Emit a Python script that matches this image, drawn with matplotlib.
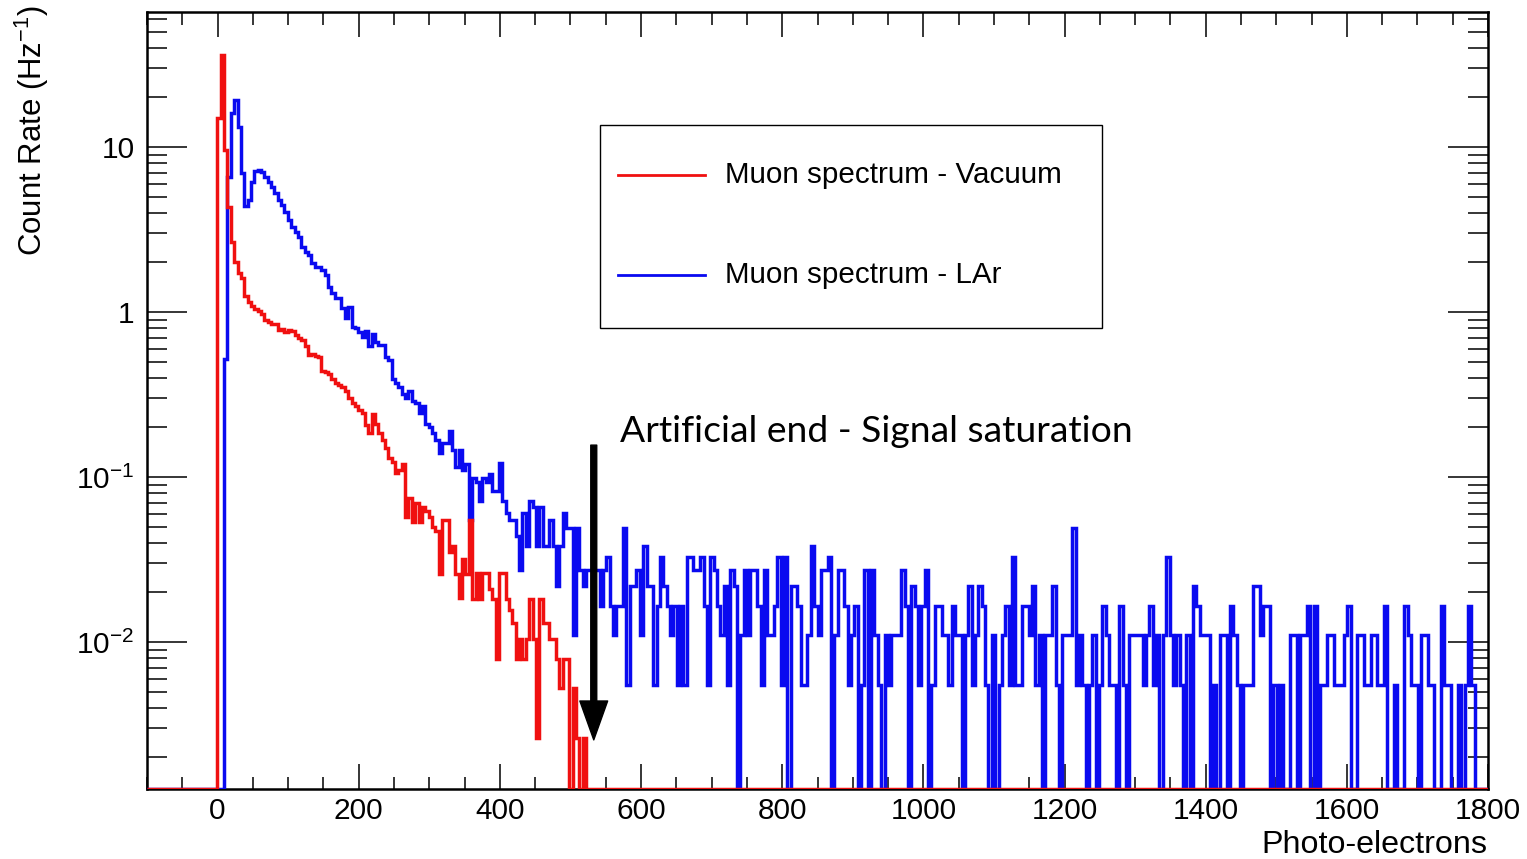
import numpy as np
import matplotlib
matplotlib.use('Agg')
import matplotlib.pyplot as plt
from matplotlib.patches import Rectangle
from matplotlib.ticker import FixedLocator, LogLocator, MultipleLocator, NullFormatter

# histogram binning (photo-electrons)
pe_min, pe_max, n_bins = -100, 1800, 400

# Muon spectrum - Vacuum (red): rate in Hz for the dense part, then raw counts
vac_first_bin = 21
vac_rate_head = [15, 36, 9.6, 4.35, 2.67, 2.0, 1.72, 1.6, 1.25, 1.15, 1.08, 1.04, 1.02,
                 0.97, 0.90, 0.87, 0.85, 0.84, 0.78, 0.79, 0.76, 0.78, 0.77, 0.73, 0.70,
                 0.68, 0.62, 0.55, 0.56, 0.54, 0.53, 0.44, 0.43, 0.42, 0.39, 0.37, 0.36,
                 0.35, 0.33, 0.30, 0.28, 0.27, 0.255, 0.245, 0.206, 0.185, 0.24, 0.21,
                 0.185, 0.168, 0.15, 0.13, 0.123, 0.105, 0.11, 0.12, 0.057, 0.075, 0.053,
                 0.07, 0.053, 0.066, 0.062, 0.057, 0.05, 0.047, 0.026, 0.055, 0.055,
                 0.035, 0.038, 0.026, 0.0185, 0.032, 0.026]
vac_rate_per_count = 0.00262
vac_counts_tail = [21, 7, 10, 7, 10, 10, 8, 7, 3, 10, 10, 7, 6, 5, 3, 4, 3, 4, 7, 4,
                   1, 7, 5, 5, 4, 4, 3, 2, 3, 3, 0, 2, 1, 0, 1]

# Muon spectrum - LAr (blue)
lar_first_bin = 23
lar_rate_head = [0.52, 6.6, 16, 19.3, 13.2, 7.0, 4.4, 4.8, 6.1, 7.2, 7.25, 7.05, 6.6,
                 6.1, 5.7, 5.26, 4.77, 4.46, 4.04, 3.61, 3.28, 3.06, 2.85, 2.48, 2.31,
                 2.22, 1.98, 1.87, 1.87, 1.80, 1.67, 1.42, 1.30, 1.22, 1.22, 1.06, 0.92,
                 1.07, 0.81, 0.80, 0.76, 0.71, 0.77, 0.62, 0.74, 0.66, 0.63, 0.63, 0.53,
                 0.51, 0.39, 0.37, 0.35, 0.32, 0.30, 0.33, 0.29, 0.28, 0.245, 0.27, 0.21,
                 0.20, 0.185, 0.168, 0.14, 0.16, 0.16, 0.19, 0.146, 0.115, 0.146, 0.11,
                 0.12, 0.055]
lar_rate_per_count = 0.00549
lar_counts_tail = [18, 17, 13, 18, 17, 19, 15, 15, 22, 13, 11, 10, 10, 8, 5, 11, 7, 13,
                   12, 7, 12, 7, 7, 10, 7, 4, 7, 11, 9, 9, 2, 9, 5, 4, 5, 5, 5,
                   # ~560-880 pe
                   5, 3, 5, 6, 3, 2, 3, 3, 9, 1, 4, 4, 5, 2, 7, 4, 4, 1, 3, 6,
                   4, 3, 2, 3, 1, 3, 1, 6, 6, 5, 5, 6, 3, 1, 6, 5, 3, 2, 4, 1,
                   5, 4, 0, 2, 5, 2, 5, 5, 3, 1, 5, 2, 2, 3, 6, 1, 6, 0, 4, 4,
                   3, 1, 1, 2, 7, 3, 2,
                   # ~880-1170 pe
                   5, 5, 6, 0, 2, 5, 5, 3, 1, 2, 3, 0, 1, 5, 0, 5, 2, 1, 0, 2,
                   1, 2, 2, 2, 5, 3, 0, 4, 3, 1, 3, 5, 0, 1, 3, 3, 2, 2, 1, 3,
                   2, 2, 0, 2, 4, 1, 2, 4, 3, 1, 0, 2, 0, 1, 2, 3, 1, 6, 1, 1,
                   3, 3, 2, 4, 1, 2,
                   # ~1170-1480 pe
                   0, 2, 2, 4, 1, 0, 2, 2, 2, 9, 1, 2, 1, 0, 1, 2, 0, 1, 3, 2,
                   1, 1, 0, 3, 1, 0, 2, 2, 2, 2, 1, 2, 3, 1, 2, 0, 2, 6, 2, 1,
                   2, 1, 0, 2, 0, 4, 3, 2, 2, 2, 0, 1, 0, 2, 2, 0, 3, 2, 1, 0,
                   1, 1, 1, 4, 4, 2,
                   # ~1480-1780 pe
                   3, 3, 0, 1, 0, 1, 0, 0, 2, 2, 0, 2, 2, 3, 0, 3, 0, 1, 1, 2,
                   2, 1, 1, 1, 2, 3, 0, 0, 2, 2, 1, 1, 2, 2, 1, 1, 3, 0, 0, 1,
                   0, 0, 3, 2, 1, 1, 0, 2, 2, 1, 1, 0, 0, 3, 1, 1, 0, 0, 1, 0,
                   1, 3, 1]

x_ticks = [0, 200, 400, 600, 800, 1000, 1200, 1400, 1600, 1800]
y_ticks = [0.01, 0.1, 1, 10]
y_ticklabels = ['$10^{-2}$', '$10^{-1}$', '1', '10']

ymin, ymax = 1.285e-3, 65.8

plt.rcParams['font.family'] = ['Liberation Sans', 'DejaVu Sans']
plt.rcParams['mathtext.default'] = 'regular'


def build(first, head, tail, q):
    vals = np.zeros(n_bins)
    seq = np.concatenate([np.array(head, dtype=float), np.array(tail) * q])
    vals[first:first + len(seq)] = seq
    # empty bins are drawn on the bottom of the frame, like ROOT does
    vals[vals <= 0] = ymin
    return vals


edges = np.linspace(pe_min, pe_max, n_bins + 1)
vac = build(vac_first_bin, vac_rate_head, vac_counts_tail, vac_rate_per_count)
lar = build(lar_first_bin, lar_rate_head, lar_counts_tail, lar_rate_per_count)

W, H = 1527, 859
fig = plt.figure(figsize=(W / 100, H / 100), dpi=100)
ax = fig.add_axes([147 / W, 1 - 789 / H, (1488 - 147) / W, (789 - 12) / H])

blue, red = '#0a0af0', '#f01010'
ax.stairs(lar, edges, baseline=None, color=blue, lw=2.5, zorder=3)
ax.stairs(vac, edges, baseline=None, color=red, lw=2.5, zorder=3)

ax.set_yscale('log')
ax.set_xlim(pe_min, pe_max)
ax.set_ylim(ymin, ymax)

ax.xaxis.set_major_locator(FixedLocator(x_ticks))
ax.xaxis.set_minor_locator(MultipleLocator(50))
ax.yaxis.set_major_locator(FixedLocator(y_ticks))
ax.yaxis.set_minor_locator(LogLocator(base=10, subs=np.arange(2, 10)))
ax.yaxis.set_minor_formatter(NullFormatter())
ax.set_yticklabels(y_ticklabels)

ax.tick_params(axis='both', which='both', direction='in', top=True, right=True,
               labelsize=21.5, width=1.1)
ax.tick_params(axis='y', which='major', length=29, pad=9)
ax.tick_params(axis='y', which='minor', length=14.5)
ax.tick_params(axis='x', which='major', length=18, pad=6)
ax.tick_params(axis='x', which='minor', length=9)
for s in ax.spines.values():
    s.set_linewidth(1.8)

fig.text(32 / W, 1 - 5 / H, 'Count Rate (Hz$^{-1}$)', rotation=90, ha='center',
         va='top', fontsize=22.4)
fig.text(1487 / W, 1 - 845 / H, 'Photo-electrons', ha='right', va='center',
         fontsize=23.2)

# legend box drawn by hand (ROOT TLegend look)
ax.add_patch(Rectangle((0.3378, 0.5933), 0.3744, 0.2613, transform=ax.transAxes,
                       facecolor='white', edgecolor='black', lw=1.0, zorder=4))
ax.plot([0.3512, 0.4161], [0.7902, 0.7902], transform=ax.transAxes, color=red,
        lw=2.0, zorder=5)
ax.plot([0.3512, 0.4161], [0.6615, 0.6615], transform=ax.transAxes, color=blue,
        lw=2.0, zorder=5)
ax.text(0.4310, 0.7902, 'Muon spectrum - Vacuum', transform=ax.transAxes,
        va='center', fontsize=21.3, zorder=5)
ax.text(0.4310, 0.6615, 'Muon spectrum - LAr', transform=ax.transAxes,
        va='center', fontsize=21.3, zorder=5)

# saturation marker
ax.annotate('', xy=(533, 0.00255), xytext=(533, 0.156),
            arrowprops=dict(facecolor='black', edgecolor='black', width=4.3,
                            headwidth=20, headlength=28, shrink=0), zorder=6)
ax.text(570, 0.1875, 'Artificial end - Signal saturation', fontfamily='Lato',
        fontsize=26.8, va='center', zorder=6)

fig.savefig('out.png', dpi=100)
